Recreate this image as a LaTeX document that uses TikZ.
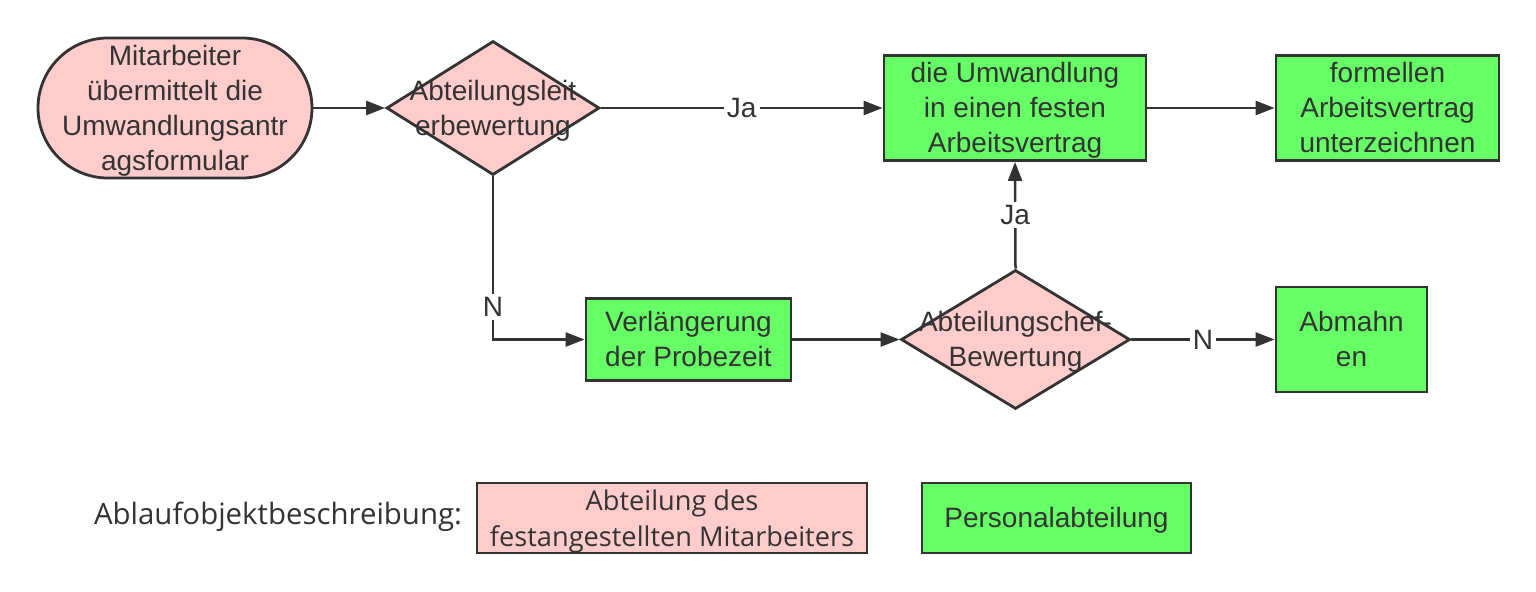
\documentclass[tikz,border=0pt]{standalone}
\usepackage{fontspec}
\setmainfont{Liberation Sans}
\newfontfamily\legendfont{Open Sans}
\usetikzlibrary{shapes.geometric,arrows.meta}
\definecolor{pinkfill}{HTML}{FFCCCC}
\definecolor{greenfill}{HTML}{66FF66}
\definecolor{ink}{HTML}{333333}
\newcommand{\ctext}[1]{\smash{\makebox[0pt]{\raisebox{-5pt}{\begin{tabular}{@{}c@{}}#1\end{tabular}}}}}
\begin{document}
\begin{tikzpicture}[x=0.5pt,y=-0.5pt,
  every node/.style={text=ink, font=\fontsize{14pt}{17.5pt}\selectfont},
  gbox/.style={draw=ink, line width=1.4pt, fill=greenfill, inner sep=0pt},
  pbox/.style={draw=ink, line width=1.4pt, fill=pinkfill, inner sep=0pt},
  pdiam/.style={draw=ink, line width=1.4pt, fill=pinkfill, diamond, inner sep=0pt},
  conn/.style={draw=ink, line width=1.25pt, -{Triangle[length=9.5pt,width=7pt]}},
  elabel/.style={fill=white, inner sep=1.5pt},
  legendtext/.style={font=\legendfont\fontsize{14.7pt}{18pt}\selectfont}
]
\useasboundingbox[fill=white] (0,0) rectangle (1536,591);

\node[pbox, rounded corners=35pt, minimum width=137pt, minimum height=70pt] (start) at (175,108)
  {\ctext{Mitarbeiter\\übermittelt die\\Umwandlungsantr\\agsformular}};
\node[pdiam, minimum width=106.5pt, minimum height=67pt] (d1) at (493,108)
  {\ctext{Abteilungsleit\\erbewertung}};
\node[gbox, minimum width=131pt, minimum height=52.5pt] (umw) at (1015,108)
  {\ctext{die Umwandlung\\in einen festen\\Arbeitsvertrag}};
\node[gbox, minimum width=111.5pt, minimum height=52.5pt] (form) at (1387.5,108)
  {\ctext{formellen\\Arbeitsvertrag\\unterzeichnen}};
\node[gbox, minimum width=102.5pt, minimum height=41pt] (verl) at (688.5,339.5)
  {\ctext{Verlängerung\\der Probezeit}};
\node[pdiam, minimum width=114.5pt, minimum height=69.5pt] (d2) at (1015.5,339.5)
  {\ctext{Abteilungschef-\\Bewertung}};
\node[gbox, minimum width=75.5pt, minimum height=52.5pt] (abm) at (1351.5,339.5)
  {\ctext{Abmahn\\en}};

\draw[conn] (start.east) -- (d1.west);
\draw[conn] (d1.east) -- node[elabel] {Ja} (umw.west);
\draw[conn] (umw.east) -- (form.west);
\draw[conn] (d1.south) |- node[elabel, pos=0.4] {N} (verl.west);
\draw[conn] (verl.east) -- (d2.west);
\draw[conn] (d2.north) -- node[elabel] {Ja} (umw.south);
\draw[conn] (d2.east) -- node[elabel] {N} (abm.west);

\node[legendtext] (legtitle) at (278,517) {Ablaufobjektbeschreibung:};
\node[pbox, minimum width=195pt, minimum height=35pt] (legp) at (672,518)
  {\legendfont\fontsize{13.6pt}{18pt}\selectfont\ctext{Abteilung des\\festangestellten Mitarbeiters}};
\node[gbox, minimum width=134.5pt, minimum height=35pt] (legg) at (1056.5,518)
  {\ctext{Personalabteilung}};
\end{tikzpicture}
\end{document}
